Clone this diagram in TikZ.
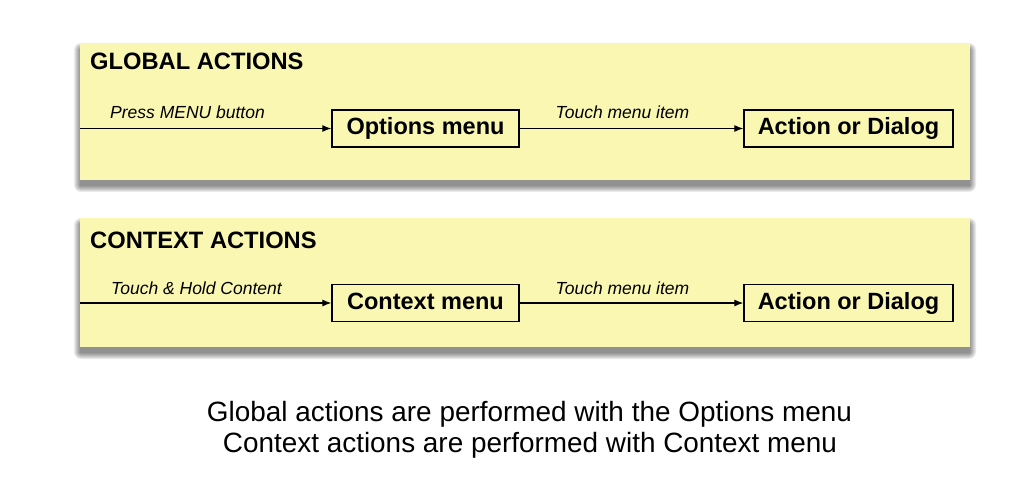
\documentclass[tikz,border=0pt]{standalone}
\usepackage{fontspec}
\setmainfont{Liberation Sans}
\usepackage{xcolor}
\usetikzlibrary{arrows.meta,positioning}
\definecolor{noteYellow}{HTML}{F9F7B2}

\begin{document}
\begin{tikzpicture}[x=1pt,y=-1pt,>={Latex[length=9pt,width=7pt]},
  panel/.style={fill=noteYellow,draw=none,inner sep=0pt,anchor=north west},
  menubox/.style={draw,line width=1.3pt,inner sep=0pt,minimum height=37pt,
    text height=17pt,text depth=5pt,font=\fontsize{23.5}{26}\selectfont\bfseries},
  head/.style={anchor=base west,inner sep=0pt,font=\fontsize{23.7}{26}\selectfont\bfseries},
  act/.style={anchor=base,inner sep=0pt,font=\fontsize{17.5}{20}\selectfont\itshape},
  note/.style={anchor=base,inner sep=0pt,font=\fontsize{27.9}{30}\selectfont},
  flow/.style={->,line width=1.2pt}]
\useasboundingbox (0,0) rectangle (1026,500);
% soft shadows under both panels
\foreach \top/\bot in {43/180,218/347}
  \foreach \s in {1,...,7}
    \fill[black,opacity=.08,rounded corners=\s pt]
      (81-\s,\top+7-\s) rectangle (969+\s,\bot+5+\s);
% global actions
\node[panel,minimum width=890pt,minimum height=137pt] (gpanel) at (80,43) {};
\node[head] (ghead) at (90,70) {GLOBAL ACTIONS};
\coordinate (gin) at (80,128.5);
\node[menubox,minimum width=187pt] (gmenu) at (425.5,128.5) {Options menu};
\node[menubox,minimum width=209pt] (gact) at (848.5,128.5) {Action or Dialog};
\draw[flow] (gin) -- (gmenu);
\draw[flow] (gmenu) -- (gact);
\node[act] (gpress) at (187.5,119) {Press MENU button};
\node[act] (gtouch) at (622.5,119) {Touch menu item};
% context actions
\node[panel,minimum width=890pt,minimum height=129pt] (cpanel) at (80,218) {};
\node[head] (chead) at (90,248) {CONTEXT ACTIONS};
\coordinate (cin) at (80,303);
\node[menubox,minimum width=187pt] (cmenu) at (425.5,303) {Context menu};
\node[menubox,minimum width=209pt] (cact) at (848.5,303) {Action or Dialog};
\draw[flow] (cin) -- (cmenu);
\draw[flow] (cmenu) -- (cact);
\node[act] (chold) at (196.5,294) {Touch \& Hold Content};
\node[act] (ctouch) at (622.5,294) {Touch menu item};
% notes
\node[note] (note1) at (529.5,421) {Global actions are performed with the Options menu};
\node[note] (note2) at (530,452) {Context actions are performed with Context menu};
\end{tikzpicture}
\end{document}
